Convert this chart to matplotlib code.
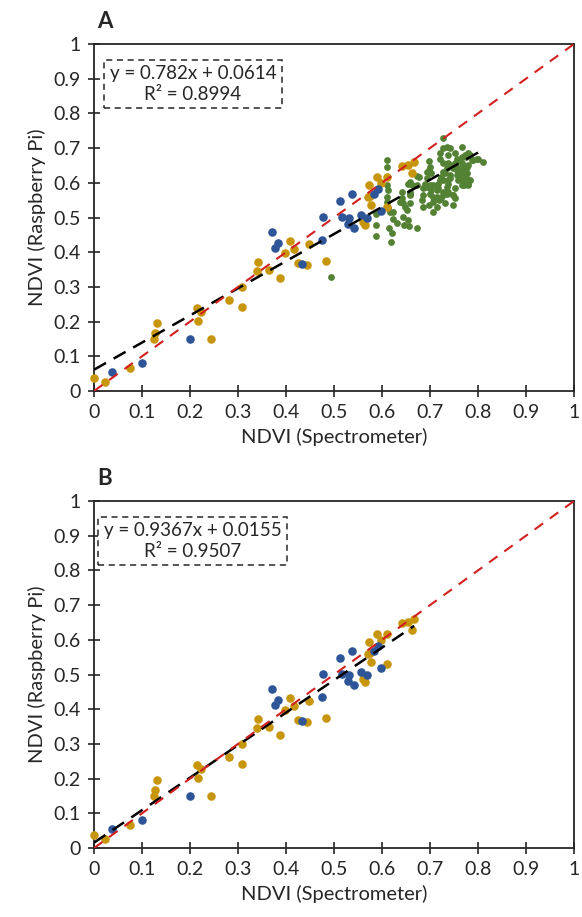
import matplotlib
matplotlib.use("Agg")
import matplotlib.pyplot as plt
from matplotlib.ticker import FuncFormatter, MultipleLocator
import numpy as np

plt.rcParams['font.family'] = ['Lato', 'DejaVu Sans']

# gold samples (shown in both panels)
gold_x = [0.000, 0.023, 0.076, 0.125, 0.127, 0.131, 0.214, 0.223, 0.217, 0.243,
          0.282, 0.308, 0.309, 0.341, 0.340, 0.364, 0.387, 0.398, 0.408, 0.417,
          0.426, 0.444, 0.447, 0.483, 0.561, 0.565, 0.571, 0.574, 0.575, 0.578,
          0.589, 0.599, 0.610, 0.611, 0.641, 0.655, 0.667, 0.662]
gold_y = [0.037, 0.027, 0.067, 0.149, 0.166, 0.195, 0.240, 0.227, 0.203, 0.149,
          0.262, 0.301, 0.241, 0.372, 0.345, 0.348, 0.327, 0.397, 0.431, 0.409,
          0.370, 0.363, 0.425, 0.376, 0.486, 0.478, 0.560, 0.594, 0.562, 0.536,
          0.618, 0.599, 0.618, 0.530, 0.648, 0.651, 0.661, 0.629]

# blue samples (shown in both panels)
blue_x = [0.038, 0.100, 0.199, 0.371, 0.383, 0.378, 0.434, 0.474, 0.477, 0.512,
          0.537, 0.516, 0.531, 0.530, 0.541, 0.557, 0.568, 0.583, 0.591, 0.597]
blue_y = [0.054, 0.082, 0.149, 0.457, 0.426, 0.412, 0.366, 0.435, 0.501, 0.548,
          0.568, 0.502, 0.500, 0.480, 0.469, 0.507, 0.500, 0.567, 0.583, 0.520]

# green samples (panel A only)
green_x = [0.494, 0.587, 0.587, 0.587, 0.611, 0.611, 0.611, 0.613, 0.611, 0.611,
           0.613, 0.617, 0.624, 0.631, 0.615, 0.620, 0.619, 0.643, 0.655, 0.645,
           0.657, 0.674, 0.653, 0.641, 0.658, 0.658, 0.641, 0.638, 0.648, 0.658,
           0.658, 0.662, 0.672, 0.678, 0.672, 0.690, 0.693, 0.699, 0.700, 0.697,
           0.700, 0.693, 0.703, 0.686, 0.683, 0.686, 0.697, 0.707, 0.700, 0.707,
           0.686, 0.693, 0.703, 0.707, 0.717, 0.714, 0.717, 0.724, 0.728, 0.721,
           0.728, 0.738, 0.752, 0.735, 0.728, 0.735, 0.742, 0.721, 0.707, 0.714,
           0.719, 0.724, 0.731, 0.735, 0.738, 0.742, 0.752, 0.752, 0.747, 0.747,
           0.738, 0.728, 0.714, 0.728, 0.735, 0.759, 0.763, 0.766, 0.756, 0.766,
           0.773, 0.776, 0.770, 0.766, 0.752, 0.773, 0.780, 0.787, 0.797, 0.811,
           0.742, 0.749, 0.756, 0.770, 0.777, 0.766, 0.773, 0.770, 0.780, 0.783,
           0.763, 0.777, 0.749, 0.766, 0.728, 0.738, 0.759, 0.776, 0.756, 0.742,
           0.731, 0.728, 0.738, 0.721, 0.780, 0.790, 0.801, 0.780, 0.759, 0.776,
           0.783, 0.655, 0.644, 0.658, 0.624]
green_y = [0.330, 0.478, 0.447, 0.509, 0.666, 0.646, 0.594, 0.579, 0.560, 0.546,
           0.526, 0.515, 0.495, 0.485, 0.470, 0.455, 0.430, 0.502, 0.492, 0.478,
           0.476, 0.470, 0.522, 0.574, 0.574, 0.565, 0.555, 0.546, 0.531, 0.541,
           0.603, 0.594, 0.594, 0.618, 0.620, 0.598, 0.613, 0.637, 0.594, 0.664,
           0.646, 0.632, 0.627, 0.565, 0.550, 0.531, 0.536, 0.546, 0.569, 0.560,
           0.584, 0.589, 0.579, 0.594, 0.584, 0.579, 0.598, 0.618, 0.632, 0.670,
           0.699, 0.680, 0.656, 0.642, 0.728, 0.704, 0.699, 0.685, 0.517, 0.531,
           0.550, 0.555, 0.541, 0.569, 0.598, 0.613, 0.584, 0.555, 0.536, 0.565,
           0.574, 0.565, 0.560, 0.574, 0.589, 0.608, 0.632, 0.656, 0.670, 0.675,
           0.642, 0.618, 0.594, 0.704, 0.687, 0.680, 0.685, 0.666, 0.670, 0.659,
           0.651, 0.642, 0.637, 0.646, 0.646, 0.627, 0.613, 0.603, 0.598, 0.608,
           0.613, 0.627, 0.565, 0.594, 0.656, 0.656, 0.642, 0.632, 0.622, 0.622,
           0.627, 0.608, 0.608, 0.608, 0.594, 0.666, 0.670, 0.651, 0.666, 0.675,
           0.680, 0.598, 0.541, 0.569, 0.517]

# linear fits (slope, intercept) and the labels shown in the boxes
fit_a = (0.782, 0.0614)
fit_b = (0.9367, 0.0155)
label_a = "y = 0.782x + 0.0614\nR\u00b2 = 0.8994"
label_b = "y = 0.9367x + 0.0155\nR\u00b2 = 0.9507"

c_blue = "#2E5597"
c_gold = "#C8960C"
c_green = "#548235"
c_text = "#262626"

fig = plt.figure(figsize=(5.82, 9.17), dpi=100)
ax1 = fig.add_axes([0.1615, 0.5736, 0.8247, 0.3784])
ax2 = fig.add_axes([0.1615, 0.0752, 0.8247, 0.3784])


def style_axes(ax):
    ax.set_xlim(0, 1)
    ax.set_ylim(0, 1)
    ax.xaxis.set_major_locator(MultipleLocator(0.1))
    ax.yaxis.set_major_locator(MultipleLocator(0.1))
    fmt = FuncFormatter(lambda v, p: "%g" % round(v, 1))
    ax.xaxis.set_major_formatter(fmt)
    ax.yaxis.set_major_formatter(fmt)
    ax.tick_params(direction="inout", length=9, width=1.2, labelsize=14,
                   colors=c_text, pad=5)
    for s in ax.spines.values():
        s.set_color(c_text)
        s.set_linewidth(1.3)
    ax.set_xlabel("NDVI (Spectrometer)", fontsize=14.5, color=c_text, labelpad=5)
    ax.set_ylabel("NDVI (Raspberry Pi)", fontsize=14.5, color=c_text, labelpad=5)


def draw_panel(ax, show_green, fit, label):
    if show_green:
        ax.scatter(green_x, green_y, s=24, color=c_green, linewidths=0, zorder=3, clip_on=False)
    ax.scatter(gold_x, gold_y, s=38, color=c_gold, linewidths=0, zorder=4, clip_on=False)
    ax.scatter(blue_x, blue_y, s=38, color=c_blue, linewidths=0, zorder=4, clip_on=False)

    xs = gold_x + blue_x + (green_x if show_green else [])
    xf = np.array([0, max(xs)])
    ax.plot(xf, fit[0] * xf + fit[1], color="black", lw=1.8, ls=(0, (5.5, 3.5)), zorder=5)
    ax.plot([0, 1], [0, 1], color="#D21F1F", lw=1.5, ls=(0, (5, 4)), zorder=6)

    ax.text(0.206, 0.885, label, ha="center", va="center", fontsize=13.5,
            color=c_text, linespacing=1.25,
            bbox=dict(boxstyle="square,pad=0.3", facecolor="white",
                      edgecolor=c_text, linestyle=(0, (4, 3)), linewidth=1.1))
    style_axes(ax)


draw_panel(ax1, True, fit_a, label_a)
draw_panel(ax2, False, fit_b, label_b)

fig.text(0.167, 0.977, "A", fontsize=16, fontweight="bold", color=c_text, va="center")
fig.text(0.167, 0.478, "B", fontsize=16, fontweight="bold", color=c_text, va="center")

fig.savefig("out.png", dpi=100)
